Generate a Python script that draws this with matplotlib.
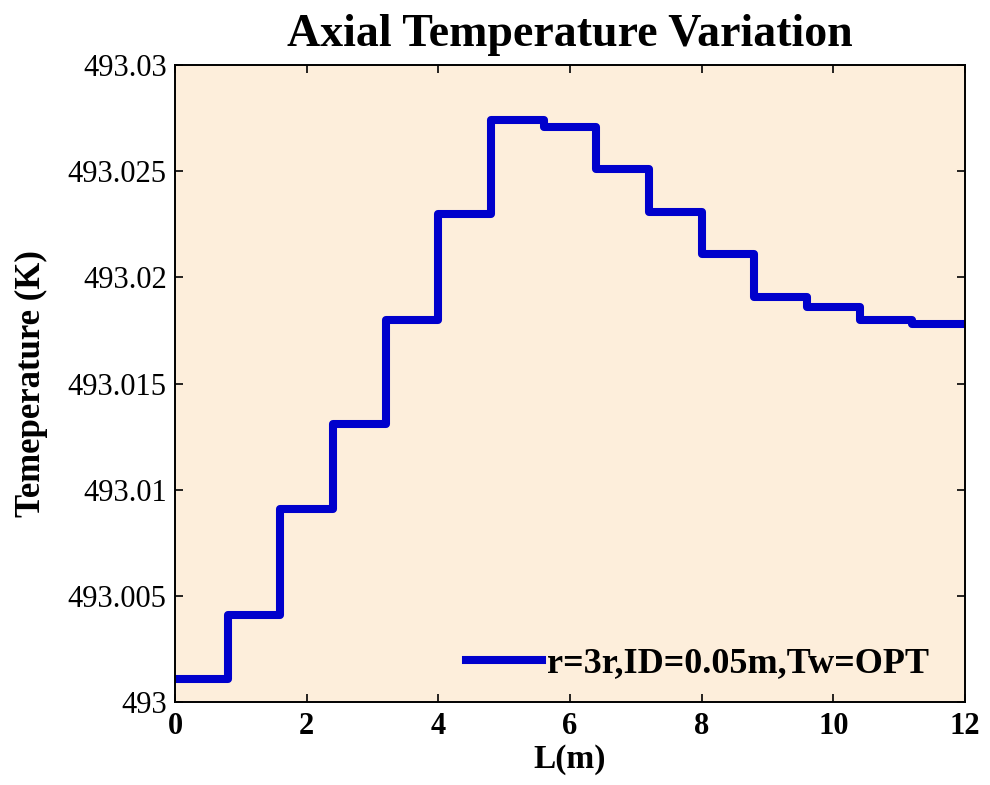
import matplotlib
matplotlib.use("Agg")
import matplotlib.pyplot as plt
from matplotlib.ticker import FuncFormatter

# step edges along the reactor (m) and temperature on each step (K)
length_m = [0, 0.8, 1.6, 2.4, 3.2, 4.0, 4.8, 5.6, 6.4, 7.2, 8.0, 8.8, 9.6, 10.4, 11.2, 12.0]
temp_k = [493.0011, 493.0041, 493.0091, 493.0131, 493.0180, 493.0230, 493.0274,
          493.0271, 493.0251, 493.0231, 493.0211, 493.0191, 493.0186, 493.0180,
          493.0178, 493.0178]

x_ticks = [0, 2, 4, 6, 8, 10, 12]
y_ticks = [493.0, 493.005, 493.01, 493.015, 493.02, 493.025, 493.03]
series_label = "r=3r,ID=0.05m,Tw=OPT"

plt.rcParams["font.family"] = ["Liberation Serif", "DejaVu Serif"]

fig = plt.figure(figsize=(9.9, 7.85), dpi=100)
ax = fig.add_axes([0.1768, 0.1057, 0.7979, 0.8113])
ax.set_facecolor("#FDEEDB")

ax.plot(length_m, temp_k, drawstyle="steps-post", color="#0000CC",
        linewidth=5.8, label=series_label)

ax.set_xlim(0, 12)
ax.set_ylim(493.0, 493.03)
ax.set_xticks(x_ticks)
ax.set_yticks(y_ticks)
ax.yaxis.set_major_formatter(FuncFormatter(lambda v, p: f"{v:g}"))

ax.tick_params(direction="in", length=6, width=1.2, top=True, right=True)
ax.tick_params(axis="x", labelsize=22, pad=7)
ax.tick_params(axis="y", labelsize=22, pad=6)
for lab in ax.get_xticklabels():
    lab.set_fontweight("bold")
for sp in ax.spines.values():
    sp.set_linewidth(1.4)

ax.set_title("Axial Temperature Variation", fontsize=33, fontweight="bold", pad=14)
ax.set_xlabel("L(m)", fontsize=24, fontweight="bold", labelpad=2)
ax.set_ylabel("Temeperature (K)", fontsize=25, fontweight="bold", labelpad=14)

ax.legend(loc="lower right", bbox_to_anchor=(0.982, 0.0), frameon=False,
          prop={"weight": "bold", "size": 26}, handlelength=2.1,
          handletextpad=0.15, borderaxespad=0.2)

fig.savefig("out.png", dpi=100)
